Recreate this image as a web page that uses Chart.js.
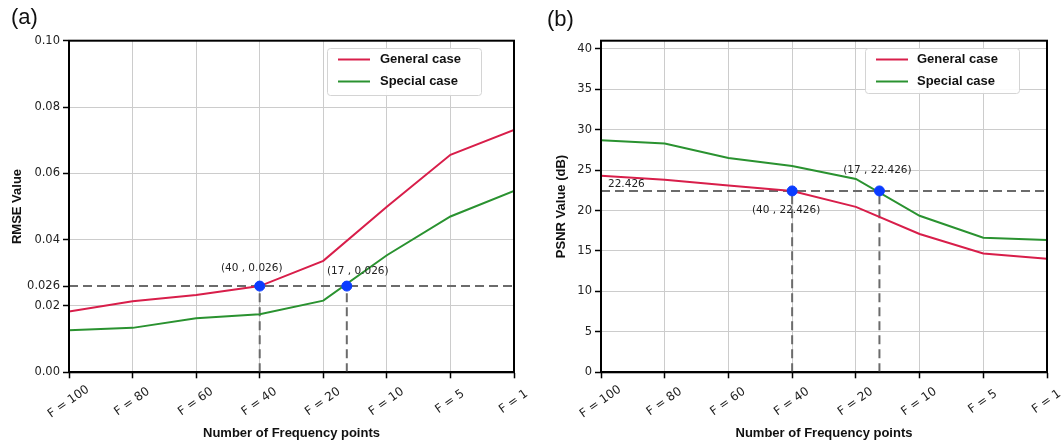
<!DOCTYPE html>
<html>
<head>
<meta charset="utf-8">
<script src="https://cdn.jsdelivr.net/npm/chart.js@4.4.1/dist/chart.umd.min.js"></script>
<style>
  html, body { margin:0; padding:0; background:#fff; }
  #wrap { position:relative; width:1061px; height:445px; background:#fff; overflow:hidden; }
  .pane { position:absolute; top:0; height:445px; }
  .panel { position:absolute; font-family:"Liberation Sans", Arial, sans-serif; font-size:22px; line-height:1; color:#111; }
</style>
</head>
<body>
<div id="wrap">
  <div class="pane" style="left:0;width:530px"><canvas id="c1" width="530" height="445"></canvas></div>
  <div class="pane" style="left:530px;width:531px"><canvas id="c2" width="531" height="445"></canvas></div>
  <div class="panel" style="left:11px;top:6px">(a)</div>
  <div class="panel" style="left:547px;top:8px">(b)</div>
</div>
<script>
// ---------- data ----------
const categories = ['F = 100', 'F = 80', 'F = 60', 'F = 40', 'F = 20', 'F = 10', 'F = 5', 'F = 1'];
const rmseGeneral = [0.0183, 0.0214, 0.0233, 0.0260, 0.0336, 0.0499, 0.0656, 0.0731];
const rmseSpecial = [0.0127, 0.0134, 0.0163, 0.0175, 0.0216, 0.0353, 0.0470, 0.0547];
const psnrGeneral = [24.3, 23.8, 23.1, 22.426, 20.45, 17.1, 14.7, 14.05];
const psnrSpecial = [28.7, 28.3, 26.5, 25.5, 23.9, 19.35, 16.65, 16.35];
const rmseTicks = [0, 0.02, 0.026, 0.04, 0.06, 0.08, 0.10];
const psnrTicks = [0, 5, 10, 15, 20, 25, 30, 35, 40];
const rmseThreshold = 0.026;
const psnrThreshold = 22.426;
const markFreq = [40, 17];          // F values of the marked points
const markPos = [3, 4.37];          // their positions along the category axis
const seriesNames = ['General case', 'Special case'];

// ---------- styles ----------
const RED = '#d81e4a', GREEN = '#2a9230', BLUE = '#0a3cff', DASH = '#6b6b6b';
const X_TICK_FONT = { family: '"DejaVu Sans", sans-serif', size: 12 };
const Y_TICK_FONT = { family: '"DejaVu Sans", sans-serif', size: 11.5 };
const TITLE_FONT = { family: '"Liberation Sans", Arial, sans-serif', size: 13, weight: 'bold' };

function padLabel(s) { return s + ' '.repeat(Math.max(0, 7 - s.length)); }

const decor = {
  id: 'decor',
  afterDatasetsDraw(chart, args, opts) {
    const { ctx, chartArea: a, scales: { x, y } } = chart;
    ctx.save();
    // annotations
    ctx.font = '10.5px "DejaVu Sans", sans-serif';
    ctx.fillStyle = '#222';
    ctx.textBaseline = 'middle';
    (opts.notes || []).forEach(n => {
      ctx.textAlign = n.align || 'center';
      ctx.fillText(n.text, x.getPixelForValue(n.x) + n.dx, y.getPixelForValue(n.y) + n.dy);
    });
    // legend
    const L = opts.legend;
    const bx = a.right - L.right - L.w, by = a.top + L.top;
    ctx.beginPath();
    ctx.roundRect(bx + 0.5, by + 0.5, L.w, L.h, 3);
    ctx.fillStyle = 'rgba(255,255,255,0.92)';
    ctx.fill();
    ctx.strokeStyle = '#d4d4d4';
    ctx.lineWidth = 1;
    ctx.stroke();
    ctx.font = 'bold 13px "Liberation Sans", Arial, sans-serif';
    ctx.textAlign = 'left';
    ctx.textBaseline = 'middle';
    chart.data.datasets.slice(0, 2).forEach((ds, i) => {
      const ry = by + 11.5 + i * 22;
      ctx.beginPath();
      ctx.moveTo(bx + 11, ry); ctx.lineTo(bx + 43, ry);
      ctx.strokeStyle = ds.borderColor; ctx.lineWidth = 2; ctx.stroke();
      ctx.fillStyle = '#111';
      ctx.fillText(ds.label, bx + L.textX, ry);
    });
    ctx.restore();
  },
  afterDraw(chart) {
    const { ctx, chartArea: a } = chart;
    ctx.save();
    ctx.strokeStyle = '#000';
    ctx.lineWidth = 2;
    ctx.strokeRect(a.left, a.top, a.right - a.left, a.bottom - a.top);
    ctx.restore();
  }
};

function build(canvasId, gen, spec, thr, yTicks, yMax, yFmt, yTitle, yTitlePad, leftW, rightPad, notes, legend) {
  const pts = arr => arr.map((v, i) => ({ x: i, y: v }));
  const datasets = [
    { label: seriesNames[0], data: pts(gen), borderColor: RED, borderWidth: 2, pointRadius: 0, tension: 0, order: 2 },
    { label: seriesNames[1], data: pts(spec), borderColor: GREEN, borderWidth: 2, pointRadius: 0, tension: 0, order: 2 },
    { label: 'h', data: [{ x: 0, y: thr }, { x: categories.length - 1, y: thr }], borderColor: DASH, borderWidth: 2, borderDash: [9, 5], pointRadius: 0, order: 3 },
    { label: 'v1', data: [{ x: markPos[0], y: 0 }, { x: markPos[0], y: thr }], borderColor: DASH, borderWidth: 2, borderDash: [9, 5], pointRadius: 0, order: 3 },
    { label: 'v2', data: [{ x: markPos[1], y: 0 }, { x: markPos[1], y: thr }], borderColor: DASH, borderWidth: 2, borderDash: [9, 5], pointRadius: 0, order: 3 },
    { label: 'pts', data: markPos.map(p => ({ x: p, y: thr })), showLine: false, pointRadius: 5, pointBackgroundColor: BLUE, pointBorderColor: BLUE, borderColor: BLUE, order: 0 }
  ];
  return new Chart(document.getElementById(canvasId), {
    type: 'line',
    data: { datasets },
    plugins: [decor],
    options: {
      responsive: false,
      animation: false,
      events: [],
      layout: { padding: { top: 40.7, right: rightPad, left: 0, bottom: 0 } },
      plugins: {
        legend: { display: false },
        tooltip: { enabled: false },
        decor: { notes, legend }
      },
      scales: {
        x: {
          type: 'linear', min: 0, max: categories.length - 1,
          afterBuildTicks: s => { s.ticks = categories.map((c, i) => ({ value: i })); },
          afterFit: s => { s.height = 445 - 372.3; },
          grid: { color: '#cccccc', lineWidth: 1, tickColor: '#000', tickLength: 6, tickWidth: 1.5 },
          border: { color: '#000', width: 2 },
          ticks: {
            font: X_TICK_FONT, color: '#222', autoSkip: false,
            minRotation: 35, maxRotation: 35, labelOffset: 19, padding: 4,
            callback: v => padLabel(categories[v])
          },
          title: { display: true, text: 'Number of Frequency points', font: TITLE_FONT, color: '#111', padding: { top: 0, bottom: 4 } }
        },
        y: {
          type: 'linear', min: 0, max: yMax,
          afterBuildTicks: s => { s.ticks = yTicks.map(v => ({ value: v })); },
          afterFit: s => { s.width = leftW; },
          grid: {
            color: c => (c.tick && c.tick.value === thr) ? 'rgba(0,0,0,0)' : '#cccccc',
            lineWidth: 1, tickColor: '#000', tickLength: 6, tickWidth: 1.5
          },
          border: { color: '#000', width: 2 },
          ticks: { font: Y_TICK_FONT, color: '#222', padding: 3, callback: yFmt },
          title: { display: true, text: yTitle, font: TITLE_FONT, color: '#111', padding: { top: yTitlePad, bottom: 0 } }
        }
      }
    }
  });
}

build('c1', rmseGeneral, rmseSpecial, rmseThreshold, rmseTicks, 0.10,
  v => v === rmseThreshold ? String(rmseThreshold) : v.toFixed(2),
  'RMSE Value', 10, 69, 16,
  [
    { text: '(' + markFreq[0] + ' , ' + rmseThreshold + ')', x: markPos[0], y: rmseThreshold, dx: -8, dy: -18 },
    { text: '(' + markFreq[1] + ' , ' + rmseThreshold + ')', x: markPos[1], y: rmseThreshold, dx: 11, dy: -15 }
  ],
  { right: 33, top: 7.3, w: 154, h: 47, textX: 53 });

build('c2', psnrGeneral, psnrSpecial, psnrThreshold, psnrTicks, 41,
  v => String(v),
  'PSNR Value (dB)', 24, 71, 14,
  [
    { text: '(' + markFreq[0] + ' , ' + psnrThreshold + ')', x: markPos[0], y: psnrThreshold, dx: -6, dy: 19 },
    { text: '(' + markFreq[1] + ' , ' + psnrThreshold + ')', x: markPos[1], y: psnrThreshold, dx: -2, dy: -21 },
    { text: String(psnrThreshold), x: 0, y: psnrThreshold, dx: 7, dy: -7, align: 'left' }
  ],
  { right: 28, top: 7.3, w: 154, h: 45, textX: 52 });
</script>
</body>
</html>
